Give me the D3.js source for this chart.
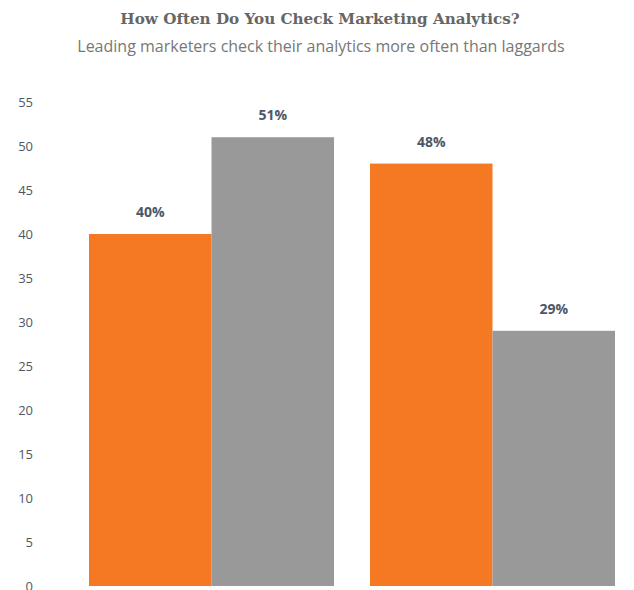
<!DOCTYPE html>
<html><head><meta charset="utf-8">
<script src="https://cdn.jsdelivr.net/npm/d3@7"></script>
<style>body{margin:0;background:#fff;} svg{display:block;}</style>
</head><body>
<svg id="c" width="634" height="590"></svg>
<script>
const groups = ["Leaders", "Laggards"];
const series = ["Orange", "Gray"];
const orangeValues = [40, 48];
const grayValues = [51, 29];
const yTicks = [0, 5, 10, 15, 20, 25, 30, 35, 40, 45, 50, 55];
const colors = ["#F47922", "#999999"];

const svg = d3.select("#c");
const y = d3.scaleLinear().domain([0, 55]).range([586, 102]);
const x0 = d3.scaleBand().domain(groups).range([89, 615]).paddingInner(0.128).paddingOuter(0);
const x1 = d3.scaleBand().domain(series).range([0, x0.bandwidth()]).padding(0);

svg.append("text").attr("x", 320).attr("y", 24).attr("text-anchor", "middle")
  .attr("font-family", "DejaVu Serif").attr("font-weight", "bold").attr("font-size", 15.2)
  .attr("fill", "#666").text("How Often Do You Check Marketing Analytics?");
svg.append("text").attr("x", 321).attr("y", 52).attr("text-anchor", "middle")
  .attr("font-family", "Open Sans").attr("font-size", 16)
  .attr("fill", "#777").text("Leading marketers check their analytics more often than laggards");

const yAxis = d3.axisLeft(y).tickValues(yTicks).tickSize(0).tickPadding(0);
const ag = svg.append("g").attr("transform", "translate(33,0)").call(yAxis);
ag.select(".domain").remove();
ag.selectAll("text").attr("font-family", "Open Sans").attr("font-size", 13)
  .attr("fill", "#4d5866").attr("text-anchor", "end");

const data = groups.map((g, i) => ({g, vals: [orangeValues[i], grayValues[i]]}));
const gg = svg.selectAll(".grp").data(data).join("g")
  .attr("transform", d => `translate(${x0(d.g)},0)`);
gg.selectAll("rect").data(d => d.vals.map((v, j) => ({s: series[j], v, j}))).join("rect")
  .attr("x", d => x1(d.s)).attr("width", x1.bandwidth())
  .attr("y", d => y(d.v)).attr("height", d => y(0) - y(d.v))
  .attr("fill", d => colors[d.j]);
gg.selectAll(".lbl").data(d => d.vals.map((v, j) => ({s: series[j], v, j}))).join("text")
  .attr("x", d => x1(d.s) + x1.bandwidth() / 2).attr("y", d => y(d.v) - 17)
  .attr("text-anchor", "middle").attr("font-family", "Open Sans").attr("font-weight", "bold")
  .attr("font-size", 14).attr("fill", "#4d5866").text(d => d.v + "%");
</script>
</body></html>
